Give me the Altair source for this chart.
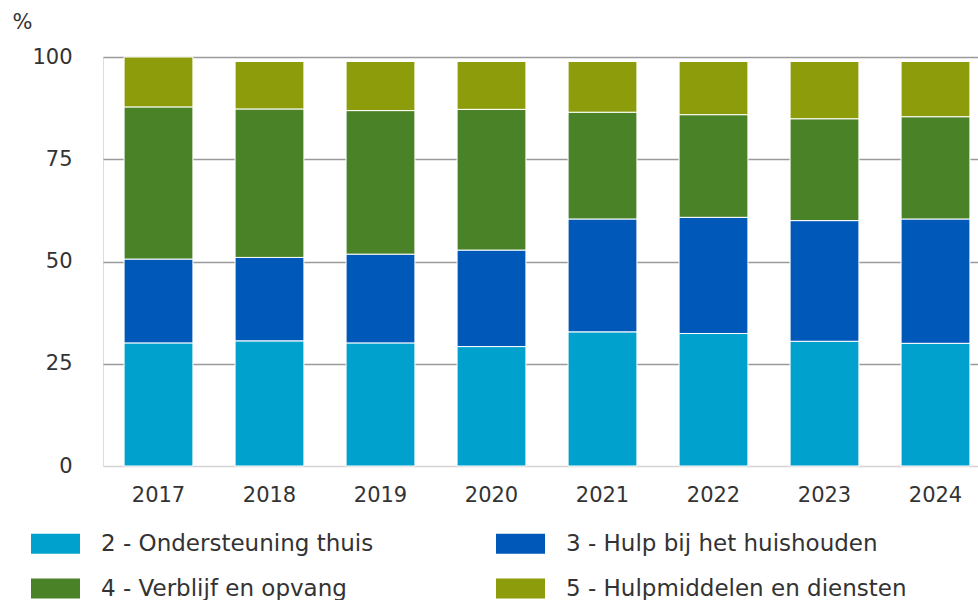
import altair as alt
import pandas as pd

years = ["2017", "2018", "2019", "2020", "2021", "2022", "2023", "2024"]
categories = [
    "2 - Ondersteuning thuis",
    "3 - Hulp bij het huishouden",
    "4 - Verblijf en opvang",
    "5 - Hulpmiddelen en diensten",
]
ondersteuning = [30.1, 30.6, 30.1, 29.2, 32.8, 32.4, 30.5, 30.0]
huishouden = [20.5, 20.4, 21.7, 23.6, 27.6, 28.4, 29.5, 30.4]
verblijf = [37.2, 36.3, 35.1, 34.4, 26.1, 25.1, 24.9, 25.0]
hulpmiddelen = [12.2, 11.6, 12.0, 11.7, 12.4, 13.0, 14.0, 13.5]
colors = ["#00a1cd", "#0058b8", "#4a8227", "#8c9c0a"]

series = [ondersteuning, huishouden, verblijf, hulpmiddelen]
rows = []
for ci, (cat, vals) in enumerate(zip(categories, series)):
    for y, v in zip(years, vals):
        rows.append({"jaar": y, "categorie": cat, "waarde": v, "ord": ci})
df = pd.DataFrame(rows)

FONT = "DejaVu Sans"
TXT = "#333333"

chart = (
    alt.Chart(df)
    .mark_bar(stroke="white", strokeWidth=1)
    .encode(
        x=alt.X(
            "jaar:N",
            sort=years,
            title=None,
            scale=alt.Scale(range=[0, 888], paddingInner=0.38, paddingOuter=0.19),
            axis=alt.Axis(
                labelAngle=0,
                ticks=False,
                domain=False,
                labelPadding=18,
                labelFontSize=21,
                labelFont=FONT,
                labelColor=TXT,
                grid=False,
            ),
        ),
        y=alt.Y(
            "waarde:Q",
            stack="zero",
            scale=alt.Scale(domain=[0, 100], nice=False),
            axis=alt.Axis(
                values=[0, 25, 50, 75, 100],
                title="%",
                titleAngle=0,
                titleAlign="left",
                titleBaseline="alphabetic",
                titleX=-91,
                titleY=-29,
                titleFont=FONT,
                titleFontSize=21,
                titleFontWeight="normal",
                titleColor=TXT,
                ticks=False,
                domain=False,
                labelPadding=31,
                labelFontSize=21,
                labelFont=FONT,
                labelColor=TXT,
                gridColor=alt.condition(
                    "datum.value == 0", alt.value("#d4d4d4"), alt.value("#9a9a9a")
                ),
                gridWidth=1.6,
            ),
        ),
        color=alt.Color(
            "categorie:N",
            scale=alt.Scale(domain=categories, range=colors),
            legend=alt.Legend(
                title=None,
                orient="none",
                direction="horizontal",
                legendX=-72,
                legendY=462,
                columns=2,
                columnPadding=122,
                rowPadding=8,
                padding=0,
                symbolType="M-1,-0.41H1V0.41H-1Z",
                symbolSize=2401,
                symbolStrokeWidth=0,
                symbolOpacity=1,
                labelOffset=21,
                labelFontSize=23,
                labelFont=FONT,
                labelColor=TXT,
                labelLimit=500,
            ),
        ),
        order=alt.Order("ord:Q", sort="ascending"),
    )
    .properties(
        width=875,
        height=409,
        padding={"left": 103, "top": 57, "right": 0, "bottom": 134},
        autosize=alt.AutoSizeParams(type="none"),
    )
    .configure_view(stroke=None)
    .configure(background="white")
)

chart.save("out.html", embed_options={"renderer": "svg", "actions": False})
